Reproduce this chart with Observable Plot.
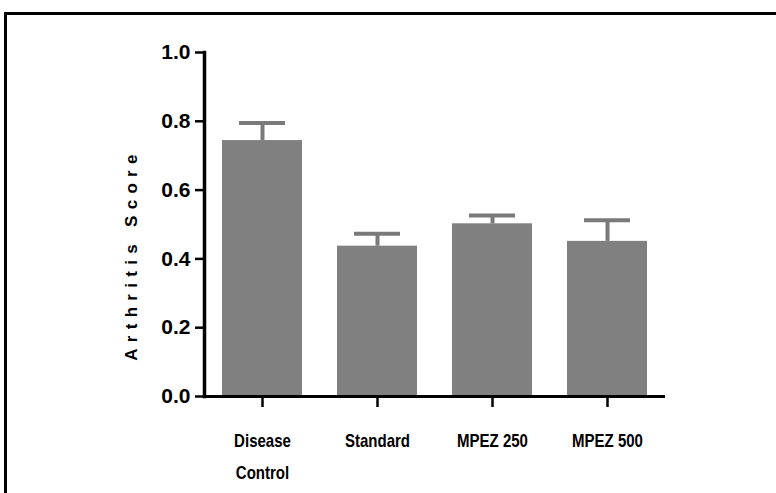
<!DOCTYPE html>
<html><head><meta charset="utf-8">
<script src="https://cdn.jsdelivr.net/npm/d3@7"></script>
<script src="https://cdn.jsdelivr.net/npm/@observablehq/plot@0.6"></script>
<style>
html,body{margin:0;padding:0;background:#fff;overflow:hidden}
#frame{position:absolute;left:4px;top:12px;width:820px;height:620px;border:3px solid #000;box-sizing:border-box}
#chart{position:absolute;left:0;top:0}
g[aria-label="text"] text{letter-spacing:6.3px}
</style></head><body>
<div id="frame"></div><div id="chart"></div>
<script>
const categories = ["Disease\nControl", "Standard", "MPEZ 250", "MPEZ 500"];
const means = [0.744, 0.437, 0.502, 0.451];
const errors = [0.051, 0.036, 0.024, 0.061];
const yTicks = [0, 0.2, 0.4, 0.6, 0.8, 1.0];
const yLabel = "Arthritis Score";

const data = categories.map((c, i) => ({group: c, mean: means[i], upper: means[i] + errors[i]}));

const chart = Plot.plot({
  width: 776,
  height: 493,
  marginLeft: 204,
  marginRight: 111,
  marginTop: 52,
  marginBottom: 97,
  style: {background: "transparent", color: "#000", overflow: "visible"},
  x: {domain: categories, paddingInner: 0.306, paddingOuter: 0.156, label: null},
  y: {domain: [0, 1], label: null},
  marks: [
    Plot.barY(data, {x: "group", y: "mean", fill: "#808080"}),
    Plot.ruleX(data, {x: "group", y1: "mean", y2: "upper", stroke: "#7a7a7a", strokeWidth: 4}),
    Plot.tickY(data, {x: "group", y: "upper", stroke: "#7a7a7a", strokeWidth: 4, insetLeft: 17, insetRight: 17}),
    Plot.ruleY([0], {stroke: "#000", strokeWidth: 3}),
    Plot.frame({anchor: "left", stroke: "#000", strokeWidth: 3.5}),
    Plot.axisY({ticks: yTicks, tickFormat: d3.format(".1f"), tickSize: 9, tickPadding: 5, strokeWidth: 2.5,
      fontSize: 21, fontWeight: "bold", fontFamily: "Liberation Sans, Arial, sans-serif", label: null}),
    Plot.axisX({tickSize: 11, tickPadding: 17, strokeWidth: 2.5, fontSize: 19, fontWeight: "bold",
      fontFamily: "Liberation Sans, Arial, sans-serif", lineHeight: 1.68, label: null}),
    Plot.text([yLabel], {text: d => d, frameAnchor: "left", textAnchor: "middle", rotate: -90, dx: -73, dy: 30,
      fontSize: 17, fontWeight: "bold", fontFamily: "Liberation Sans, Arial, sans-serif", fill: "#000"})
  ]
});
document.getElementById("chart").appendChild(chart);

// condense the x tick labels horizontally (narrow bold face in the reference)
d3.select(chart).selectAll('g[aria-label="x-axis tick label"] text').each(function () {
  const t = d3.select(this);
  const spans = t.selectAll("tspan");
  const parts = spans.empty() ? [this] : spans.nodes();
  for (const p of parts) {
    const len = p.getComputedTextLength();
    p.setAttribute("textLength", (len * 0.79).toFixed(1));
    p.setAttribute("lengthAdjust", "spacingAndGlyphs");
  }
});
</script>
</body></html>
